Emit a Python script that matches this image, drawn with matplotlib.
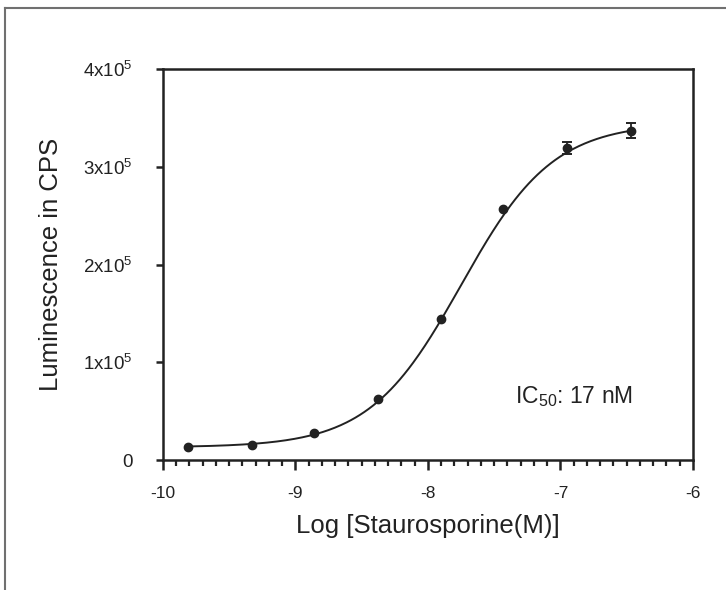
import numpy as np
import matplotlib
matplotlib.use("Agg")
import matplotlib.pyplot as plt
from matplotlib.ticker import MultipleLocator, FixedLocator
from matplotlib.lines import Line2D

plt.rcParams['font.family'] = ['Liberation Sans', 'DejaVu Sans']
plt.rcParams['mathtext.fontset'] = 'custom'
plt.rcParams['mathtext.rm'] = 'Liberation Sans'
plt.rcParams['mathtext.it'] = 'Liberation Sans'

# data
log_conc = [-9.81, -9.33, -8.86, -8.38, -7.90, -7.43, -6.95, -6.47]
lum = [13000, 15000, 27600, 62400, 144000, 257000, 319000, 337000]
lum_err = [0, 0, 0, 0, 0, 0, 6000, 7700]

# 4PL fit parameters (estimated from the curve)
bottom = 13000
top = 345000
log_ic50 = -7.75
hill = 1.25

y_ticks = [0, 1e5, 2e5, 3e5, 4e5]
y_labels = ['0', r'1x10$^5$', r'2x10$^5$', r'3x10$^5$', r'4x10$^5$']
x_ticks = [-10, -9, -8, -7, -6]

ink = '#222222'

fig = plt.figure(figsize=(7.26, 5.90), dpi=100)
ax = fig.add_axes([0.2245, 0.2203, 0.73, 0.6627])

xs = np.linspace(log_conc[0], log_conc[-1], 300)
fit = bottom + (top - bottom) / (1 + 10 ** ((log_ic50 - xs) * hill))
ax.plot(xs, fit, color=ink, lw=1.4)
ax.plot(log_conc, lum, 'o', color=ink, ms=6)

# error bars only where they stick out of the marker
ex = [x for x, e in zip(log_conc, lum_err) if e > 0]
ey = [y for y, e in zip(lum, lum_err) if e > 0]
ee = [e for e in lum_err if e > 0]
ax.errorbar(ex, ey, yerr=ee, fmt='none', ecolor=ink, elinewidth=1.3,
            capsize=3.8, capthick=1.4)

ax.set_xlim(-10, -6)
ax.set_ylim(0, 4e5)
ax.xaxis.set_major_locator(FixedLocator(x_ticks))
ax.xaxis.set_minor_locator(MultipleLocator(0.1))
ax.set_xticklabels([str(t) for t in x_ticks])
ax.set_yticks(y_ticks)
ax.set_yticklabels(y_labels)

for s in ax.spines.values():
    s.set_linewidth(1.8)
    s.set_color(ink)
ax.tick_params(axis='x', which='major', direction='out', length=7, width=1.8,
               labelsize=12.5, colors=ink, pad=12)
ax.tick_params(axis='y', which='major', direction='out', length=5, width=1.8,
               labelsize=13.5, colors=ink, pad=17)
ax.tick_params(axis='x', which='minor', direction='out', length=4.5, width=1.6, colors=ink)
ax.tick_params(axis='y', which='minor', length=0)

ax.set_xlabel('Log [Staurosporine(M)]', fontsize=18.5, color=ink, labelpad=9)
ax.set_ylabel('Luminescence in CPS', fontsize=18.5, color=ink, labelpad=14)

ax.text(-7.343, 0.583e5, r'IC$_{50}$: 17 nM', fontsize=16.5, color=ink, va='baseline')

# outer frame (top and left edges visible)
fig.add_artist(Line2D([0.007, 1.0], [0.986, 0.986], color='#707070', lw=1.5,
                      transform=fig.transFigure))
fig.add_artist(Line2D([0.007, 0.007], [0.0, 0.986], color='#707070', lw=1.5,
                      transform=fig.transFigure))

fig.savefig('out.png', dpi=100)
